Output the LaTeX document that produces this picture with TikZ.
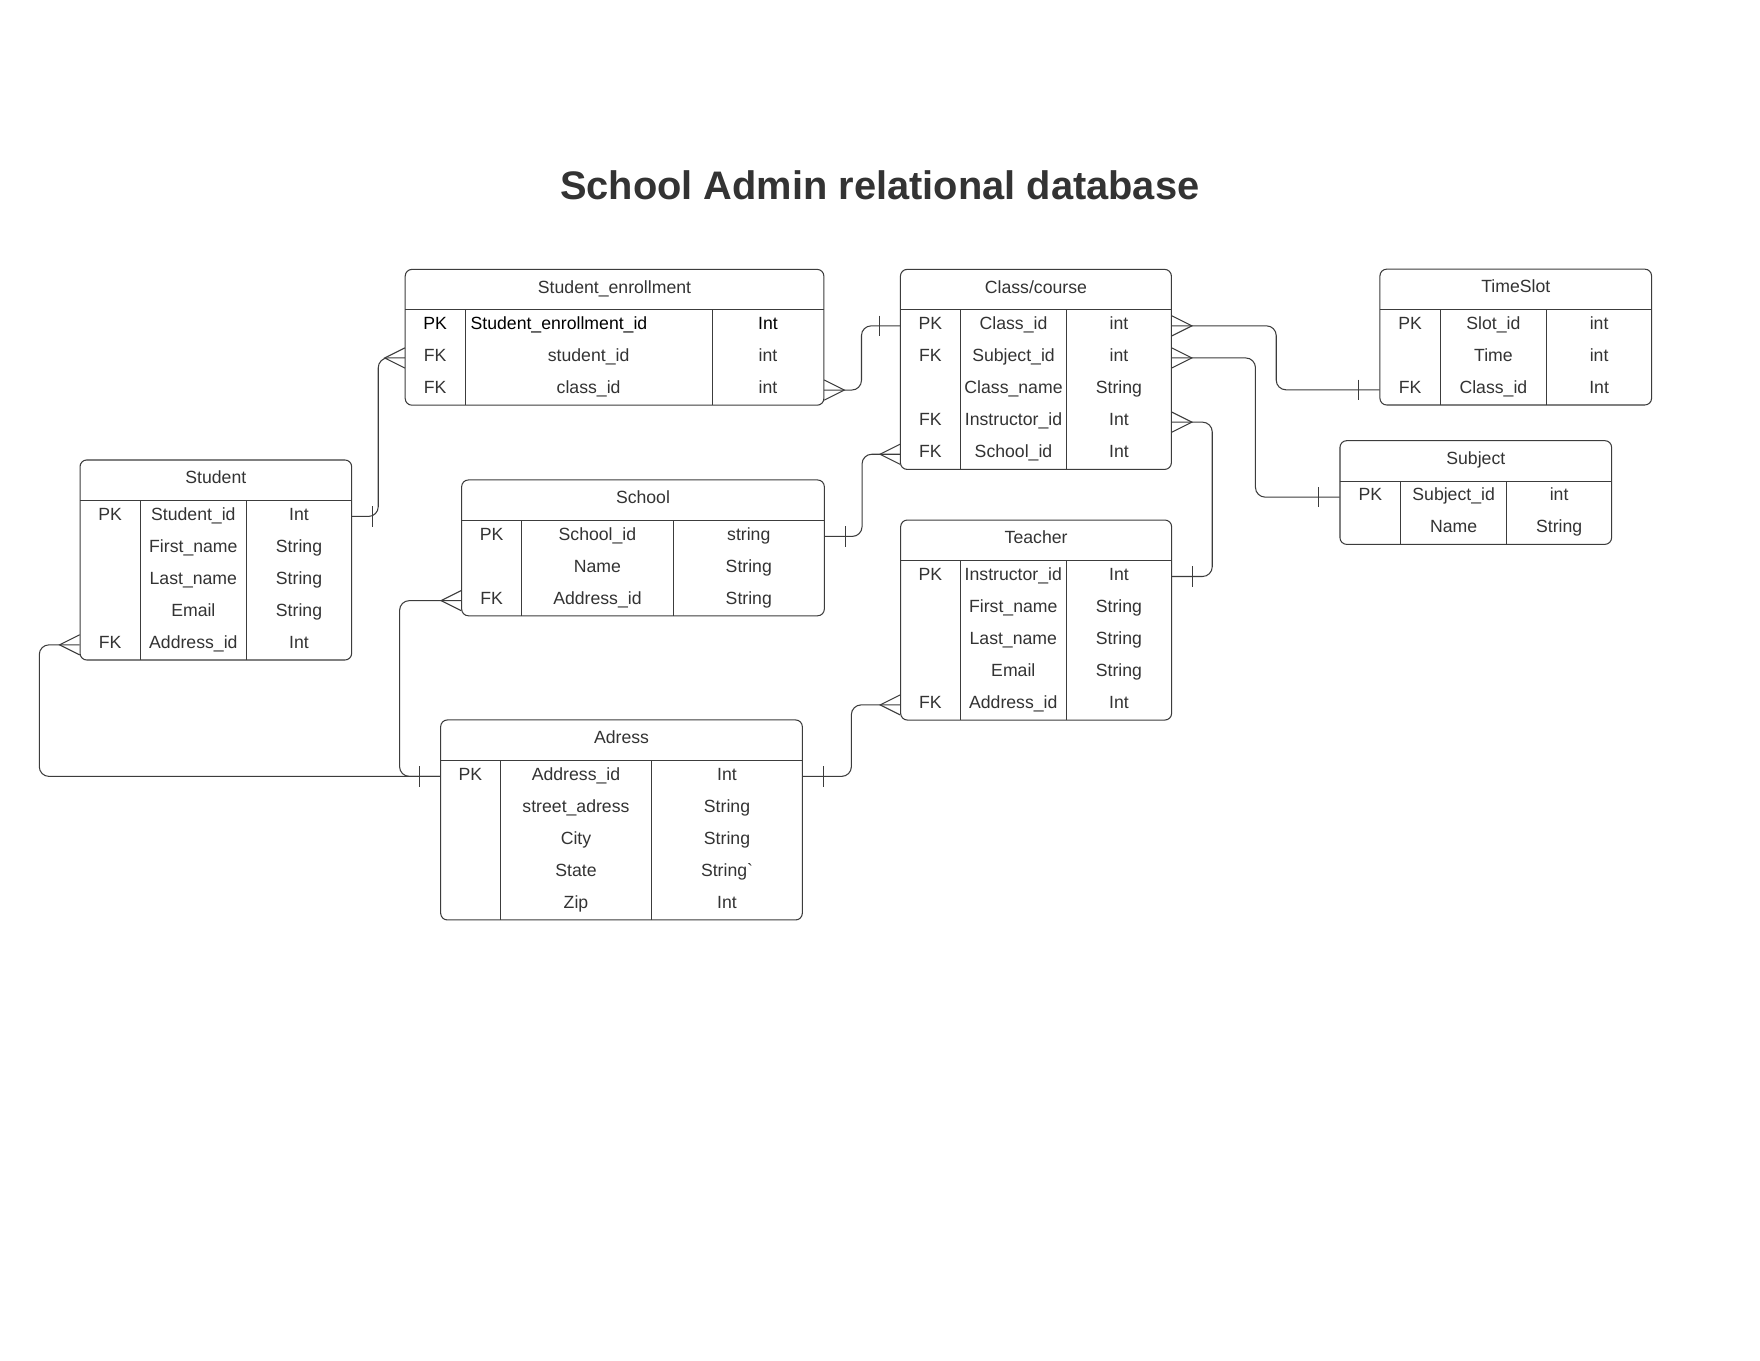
\documentclass[tikz,border=0pt]{standalone}
\usepackage{fontspec}
\setmainfont{Liberation Sans}
\newfontfamily\plainls{Liberation Sans}
\usetikzlibrary{calc,fit}
\definecolor{ink}{HTML}{333333}
\definecolor{edgecol}{HTML}{3C3C3C}
\newcommand\strgrave{{\plainls String`}}
\tikzset{
  tbl/.style={draw=edgecol, line width=0.7pt, rounded corners=4.5pt, inner sep=0pt},
  rowband/.style={inner sep=0pt, draw=none},
  ercell/.style={inner sep=0pt, text=ink, font=\fontsize{11.8}{14}\selectfont},
  erline/.style={draw=edgecol, line width=0.7pt},
  conn/.style={draw=edgecol, line width=0.7pt, rounded corners=6.5pt},
}
% #1 name, #2 left, #3 top, #4 right, #5 divider 1, #6 divider 2, #7 title, #8 rows, #9 number of rows
\newcommand\ertable[9]{%
  \pgfmathsetmacro\erbot{#3+35.2+28.6*#9}
  \node[tbl, fit={(#2,#3) (#4,\erbot)}] (#1) {};
  \node[ercell, anchor=base] (#1-title) at ({(#2+#4)/2}, #3+21.1) {#7};
  \draw[erline] (#2,#3+36) -- (#4,#3+36);
  \draw[erline] (#5,#3+36) -- (#5,\erbot);
  \draw[erline] (#6,#3+36) -- (#6,\erbot);
  \foreach \k/\n/\t [count=\i] in {#8} {
    \pgfmathsetmacro\ery{#3+36+14.3+28.6*(\i-1)}
    \node[rowband, fit={(#2,\ery-14.3) (#4,\ery+14.3)}] (#1-\i) {};
    \node[ercell, anchor=base] at ({(#2+#5)/2}, \ery+3.3) {\k};
    \node[ercell, anchor=base] at ({(#5+#6)/2}, \ery+3.3) {\n};
    \node[ercell, anchor=base] at ({(#6+#4)/2}, \ery+3.3) {\t};
  }
}
\newcommand\crow[2]{\draw[erline] ($(#1)+(0,-9)$) -- ($(#1)+(#2*18,0)$) -- ($(#1)+(0,9)$);}
\newcommand\ertick[2]{\draw[erline] ($(#1)+(#2*18.5,-9)$) -- ($(#1)+(#2*18.5,9)$);}
\begin{document}
\begin{tikzpicture}[x=0.75pt, y=-0.75pt]
\fill[white] (0,0) rectangle (1568,1212);
\useasboundingbox (0,0) rectangle (1568,1212);

\node[anchor=base, text=ink, font=\fontsize{26.6}{32}\selectfont\bfseries] (title) at (783.7,178) {School Admin relational database};

\ertable{se}{361}{240}{734}{414.3}{634.5}{Student\_enrollment}{//, FK/student\_id/int, FK/class\_id/int}{3}
\node[ercell, text=black, anchor=base] (se-pk) at (387.6,293.6) {PK};
\node[ercell, text=black, anchor=base west] (se-pkname) at (419,293.6) {Student\_enrollment\_id};
\node[ercell, text=black, anchor=base] (se-pktype) at (684.2,293.6) {Int};

\ertable{cc}{802.2}{240}{1043.6}{855.7}{950.2}{Class/course}{PK/Class\_id/int, FK/Subject\_id/int, /Class\_name/String, FK/Instructor\_id/Int, FK/School\_id/Int}{5}
\ertable{ts}{1229.4}{239.8}{1471.4}{1283.1}{1377.9}{TimeSlot}{PK/Slot\_id/int, /Time/int, FK/Class\_id/Int}{3}
\ertable{sj}{1193.8}{392.6}{1435.8}{1247.8}{1342.3}{Subject}{PK/Subject\_id/int, /Name/String}{2}
\ertable{st}{71.3}{409.8}{313.3}{125}{219.5}{Student}{PK/Student\_id/Int, /First\_name/String, /Last\_name/String, /Email/String, FK/Address\_id/Int}{5}
\ertable{sc}{411.3}{427.6}{734.4}{464.7}{599.8}{School}{PK/School\_id/string, /Name/String, FK/Address\_id/String}{3}
\ertable{te}{802.4}{463.3}{1043.8}{855.5}{950}{Teacher}{PK/Instructor\_id/Int, /First\_name/String, /Last\_name/String, /Email/String, FK/Address\_id/Int}{5}
\ertable{ad}{392.6}{641.4}{714.8}{445.7}{580.6}{Adress}{PK/Address\_id/Int, /street\_adress/String, /City/String, /State/\strgrave, /Zip/Int}{5}

% elbow positions
\coordinate (e1) at (337,0);
\coordinate (e2) at (767.5,0);
\coordinate (e3) at (1137,0);
\coordinate (e4) at (1118.5,0);
\coordinate (e5) at (1080,0);
\coordinate (e6) at (768,0);
\coordinate (e7) at (356,0);
\coordinate (e8) at (35,0);
\coordinate (e9) at (758.5,0);

% Student -> Student_enrollment
\draw[conn] (st-1.east) -- (st-1.east -| e1) |- (se-2.west);
\ertick{st-1.east}{1}
\crow{se-2.west}{-1}
% Student_enrollment -> Class/course
\draw[conn] (se-3.east) -- (se-3.east -| e2) |- (cc-1.west);
\crow{se-3.east}{1}
\ertick{cc-1.west}{-1}
% Class/course -> TimeSlot
\draw[conn] (cc-1.east) -- (cc-1.east -| e3) |- (ts-3.west);
\crow{cc-1.east}{1}
\ertick{ts-3.west}{-1}
% Class/course -> Subject
\draw[conn] (cc-2.east) -- (cc-2.east -| e4) |- (sj-1.west);
\crow{cc-2.east}{1}
\ertick{sj-1.west}{-1}
% Class/course -> Teacher
\draw[conn] (cc-4.east) -- (cc-4.east -| e5) |- (te-1.east);
\crow{cc-4.east}{1}
\ertick{te-1.east}{1}
% School -> Class/course
\draw[conn] (sc-1.east) -- (sc-1.east -| e6) |- (cc-5.west);
\ertick{sc-1.east}{1}
\crow{cc-5.west}{-1}
% Adress -> School
\draw[conn] (ad-1.west) -- (ad-1.west -| e7) |- (sc-3.west);
\ertick{ad-1.west}{-1}
\crow{sc-3.west}{-1}
% Adress -> Student
\draw[conn] (ad-1.west) -- (ad-1.west -| e8) |- (st-5.west);
\crow{st-5.west}{-1}
% Adress -> Teacher
\draw[conn] (ad-1.east) -- (ad-1.east -| e9) |- (te-5.west);
\ertick{ad-1.east}{1}
\crow{te-5.west}{-1}
\end{tikzpicture}
\end{document}
